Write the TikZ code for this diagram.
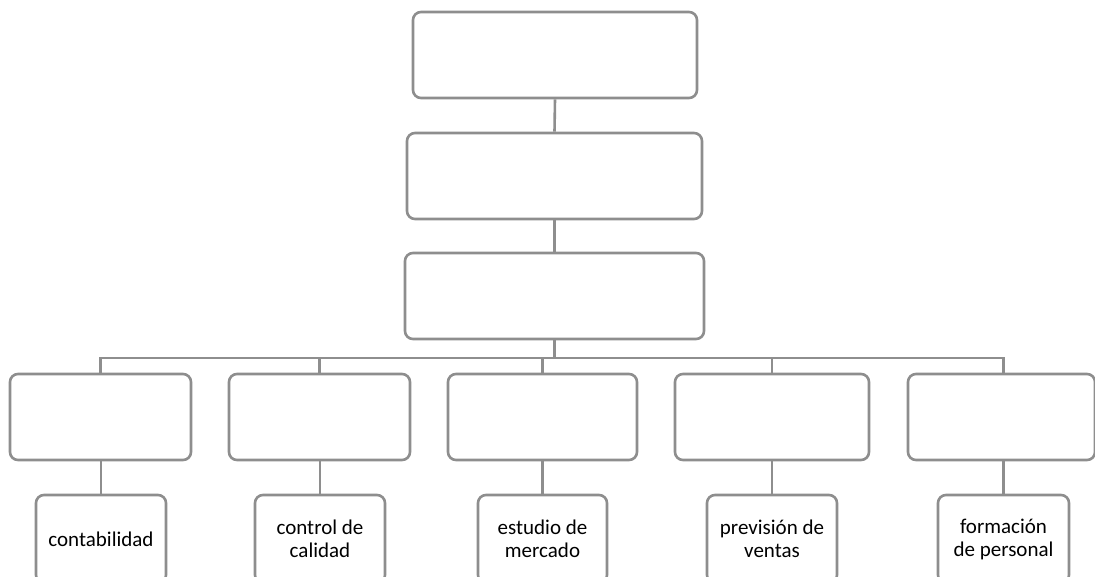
\documentclass[tikz,border=0pt]{standalone}
\usepackage{fontspec}
\setmainfont{Carlito}
\begin{document}
\begin{tikzpicture}[x=1pt,y=-1pt,
  box/.style={draw=linegray, line width=2.6pt, rounded corners=8pt, fill=white, inner sep=0pt},
  conn/.style={draw=linegray, line width=2.6pt},
  lbl/.style={align=center, font=\fontsize{21}{23}\selectfont, text=black}]
\definecolor{linegray}{HTML}{8E8E8E}
\useasboundingbox (0,0) rectangle (1095,576);
\clip (0,0) rectangle (1095,576);
\fill[white] (0,0) rectangle (1095,576);
% top chain
\node[box, minimum width=284pt, minimum height=86pt] (top) at (555,55) {};
\node[box, minimum width=295pt, minimum height=86pt] (mid) at (554.5,176) {};
\node[box, minimum width=299pt, minimum height=86pt] (low) at (554.5,296) {};
% row boxes
\node[box, minimum width=181pt, minimum height=86pt] (r1) at (100.5,417) {};
\node[box, minimum width=181pt, minimum height=86pt] (r2) at (319.5,417) {};
\node[box, minimum width=189pt, minimum height=86pt] (r3) at (542.5,417) {};
\node[box, minimum width=194pt, minimum height=86pt] (r4) at (772,417) {};
\node[box, minimum width=187pt, minimum height=86pt] (r5) at (1001.5,417) {};
% bottom boxes
\node[box, minimum width=130pt, minimum height=88pt] (b1) at (101,539) {};
\node[box, minimum width=130pt, minimum height=88pt] (b2) at (320,539) {};
\node[box, minimum width=129pt, minimum height=88pt] (b3) at (542.5,539) {};
\node[box, minimum width=130pt, minimum height=88pt] (b4) at (772,539) {};
\node[box, minimum width=131pt, minimum height=88pt] (b5) at (1003.5,539) {};
\node[lbl] (t1) at (b1.center) {contabilidad};
\node[lbl] (t2) at (b2.center) {control de\\calidad};
\node[lbl] (t3) at (b3.center) {estudio de\\mercado};
\node[lbl] (t4) at (b4.center) {previsión de\\ventas};
\node[lbl] (t5) at (b5.center) {formación\\de personal};
\coordinate (bus) at (0,358);
% connectors
\draw[conn] (top.south) -- (mid.north);
\draw[conn] (mid.south) -- (low.north);
\draw[conn] (low.south) -- (low.south |- bus);
\draw[conn] (r1.north) -- (r1.north |- bus) -- (b5.north |- bus) -- (b5.north |- r5.north);
\draw[conn] (r2.north) -- (r2.north |- bus);
\draw[conn] (r3.north) -- (r3.north |- bus);
\draw[conn] (r4.north) -- (r4.north |- bus);
\draw[conn] (b1.north |- r1.south) -- (b1.north);
\draw[conn] (b2.north |- r2.south) -- (b2.north);
\draw[conn] (b3.north |- r3.south) -- (b3.north);
\draw[conn] (b4.north |- r4.south) -- (b4.north);
\draw[conn] (b5.north |- r5.south) -- (b5.north);
\end{tikzpicture}
\end{document}
